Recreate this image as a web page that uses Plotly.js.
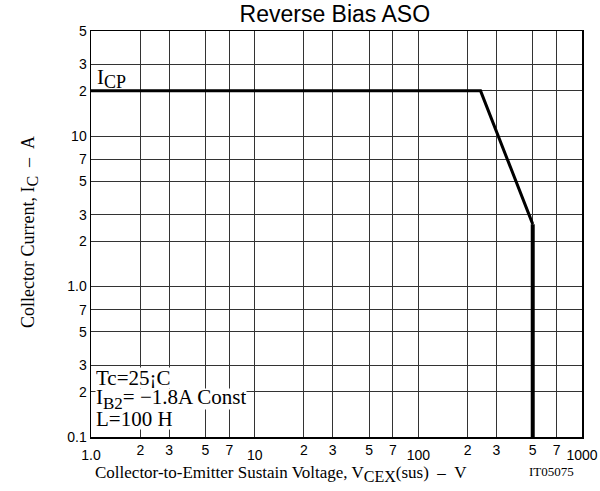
<!DOCTYPE html>
<html>
<head>
<meta charset="utf-8">
<script src="https://cdn.plot.ly/plotly-3.0.1.min.js"></script>
<style>html,body{margin:0;padding:0;background:#fff}#chart{width:600px;height:491px}</style>
</head>
<body>
<div id="chart"></div>
<script>
// Data
var vce = [1, 240, 500, 500];
var ic = [20, 20, 2.6, 0.1];

var yTickVals = [0.1, 0.2, 0.3, 0.5, 0.7, 1, 2, 3, 5, 7, 10, 20, 30, 50];
var yTickText = ["0.1", "2", "3", "5", "7", "1.0", "2", "3", "5", "7", "10", "2", "3", "5"];

var xMinorVals = [2, 3, 5, 7, 20, 30, 50, 70, 200, 300, 500, 700];
var xMinorText = ["2", "3", "5", "7", "2", "3", "5", "7", "2", "3", "5", "7"];
var xDecadeVals = [1, 10, 100, 1000];
var xDecadeText = ["1.0", "10", "100", "1000"];

var condLines = ["Tc=25¡C", "L=100 H", "I<sub><span style=\"font-size:17px\">B2</span></sub>= −1.8A Const"];
var condY = [0.146, 0.045, 0.093];

var serif = "Liberation Serif, Times New Roman, serif";
var sans = "Liberation Sans, Arial, sans-serif";

var traceFlat = {
  x: vce.slice(0, 3), y: ic.slice(0, 3), type: "scatter", mode: "lines",
  line: {color: "#000", width: 3}, xaxis: "x", yaxis: "y",
  hoverinfo: "skip", showlegend: false
};
var traceVert = {
  x: vce.slice(2), y: ic.slice(2), type: "scatter", mode: "lines",
  line: {color: "#000", width: 4}, xaxis: "x2", yaxis: "y",
  hoverinfo: "skip", showlegend: false
};

var annotations = [];
condLines.forEach(function (t, i) {
  annotations.push({
    xref: "paper", yref: "paper", x: 0.008, y: condY[i],
    text: t, showarrow: false, xanchor: "left", yanchor: "middle",
    bgcolor: "#fff", borderpad: 0, height: 20, valign: "middle",
    font: {family: serif, size: 21, color: "#000"}
  });
});
annotations.push({
  xref: "paper", yref: "paper", x: 0.008, y: 0.884,
  text: "I<sub><span style=\"font-size:18px\">CP</span></sub>", showarrow: false, xanchor: "left", yanchor: "middle",
  font: {family: serif, size: 21, color: "#000"}
});
annotations.push({
  xref: "paper", yref: "paper", x: -0.124, y: 0.505,
  text: "Collector Current, I<sub><span style=\"font-size:16px\">C</span></sub>&nbsp;&nbsp;–&nbsp;&nbsp;A", showarrow: false, textangle: -90,
  xanchor: "center", yanchor: "middle",
  font: {family: serif, size: 18, color: "#000"}
});
annotations.push({
  xref: "paper", yref: "paper", x: 0.387, y: -0.09,
  text: "Collector-to-Emitter Sustain Voltage, V<sub><span style=\"font-size:16px\">CEX</span></sub>(sus)&nbsp;&nbsp;–&nbsp;&nbsp;V", showarrow: false,
  xanchor: "center", yanchor: "middle",
  font: {family: serif, size: 17, color: "#000"}
});
annotations.push({
  xref: "paper", yref: "paper", x: 0.938, y: -0.084,
  text: "IT05075", showarrow: false,
  xanchor: "center", yanchor: "middle",
  font: {family: serif, size: 13, color: "#000"}
});

var gridColor = "#333";
var layout = {
  width: 600, height: 491,
  margin: {l: 91, r: 18, t: 31, b: 54},
  paper_bgcolor: "#fff", plot_bgcolor: "#fff",
  title: {text: "Reverse Bias ASO", x: 0.558, xanchor: "center", y: 0.971, yanchor: "middle",
          font: {family: sans, size: 23, color: "#000"}},
  xaxis: {
    type: "log", range: [0, 3],
    tickmode: "array", tickvals: xMinorVals, ticktext: xMinorText,
    ticks: "", showgrid: true, gridcolor: gridColor, gridwidth: 1,
    showline: true, mirror: true, linecolor: "#000", linewidth: 1.5,
    zeroline: false,
    tickfont: {family: sans, size: 14, color: "#000"}
  },
  xaxis2: {
    type: "log", range: [0, 3], overlaying: "x", anchor: "y", side: "bottom",
    tickmode: "array", tickvals: xDecadeVals, ticktext: xDecadeText,
    ticks: "", showgrid: true, gridcolor: gridColor, gridwidth: 1.3,
    showline: false, zeroline: false, ticklabelstandoff: 8,
    tickfont: {family: sans, size: 14, color: "#000"}
  },
  yaxis: {
    type: "log", range: [-1, Math.log10(50)],
    tickmode: "array", tickvals: yTickVals, ticktext: yTickText,
    ticks: "", showgrid: true, gridcolor: gridColor, gridwidth: 1,
    showline: true, mirror: true, linecolor: "#000", linewidth: 1.5,
    zeroline: false,
    tickfont: {family: sans, size: 14, color: "#000"}
  },
  annotations: annotations,
  showlegend: false
};

Plotly.newPlot("chart", [traceFlat, traceVert], layout, {displayModeBar: false, staticPlot: true});
</script>
</body>
</html>
